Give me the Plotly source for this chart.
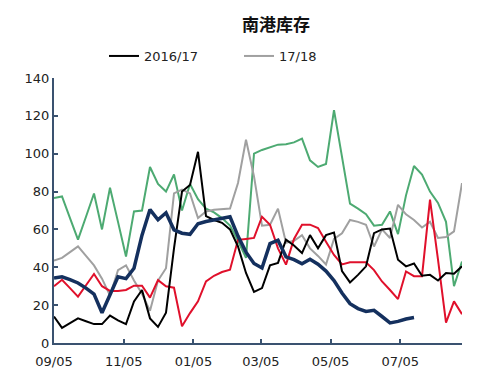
import datetime as dt
import plotly.graph_objects as go

start = dt.date(2017, 9, 5)
n_weeks = 52
dates = [start + dt.timedelta(days=7 * i) for i in range(n_weeks)]

tick_vals = ["2017-09-05", "2017-11-05", "2018-01-05", "2018-03-05", "2018-05-05", "2018-07-05"]
tick_text = ["09/05", "11/05", "01/05", "03/05", "05/05", "07/05"]

s_2016_17 = [14, 8, 10.5, 13, 11.5, 10, 10, 14.5, 12, 10, 22, 28, 13, 8.5, 16, 50,
             80, 83.5, 101, 67, 65, 63.5, 60, 51, 37, 27, 29, 41, 42.3, 54.6, 51.5, 47.5,
             57, 50, 57, 58.4, 38, 32, 36, 40.5, 58, 60, 60.5, 44, 40.5, 42, 35.5, 36,
             33, 37, 36.6, 40.5]
s_17_18 = [43.5, 45, 48, 51, 46, 41, 34, 25, 38.5, 41, 33, 26, 17, 33, 39.5, 79,
           81, 79, 66, 69.5, 70.4, 70.7, 71, 84.5, 107.4, 88, 62, 62.5, 71, 53, 54, 57,
           50, 46, 41.5, 55, 58, 65, 64, 62.5, 51, 60, 55.5, 73, 68, 65, 61, 64,
           55.5, 56, 59, 84.5]
s_red = [30, 33.4, 29, 24.5, 30.5, 36.5, 30, 27.5, 27.5, 28, 30.3, 30.3, 24, 33.2, 30, 29.2,
         8.8, 15.8, 22, 32.5, 35.5, 37.5, 38.7, 54.5, 55, 55.5, 66.7, 62.5, 50, 41.4, 55, 62.5,
         62.5, 60.7, 53.5, 46.5, 41.5, 42.6, 42.6, 42.6, 38.5, 32.5, 28, 23.2, 37.8, 35.3, 35.3, 75.7,
         44, 10.8, 22, 15.2]
s_green = [76.6, 77.4, 66, 54.6, 66.7, 79, 60, 82, 64, 45.7, 69.5, 70, 93, 84, 80, 89,
           70, 84, 76, 71, 69, 66, 62, 54, 45, 100, 102, 103.5, 104.8, 105, 106, 108,
           96.5, 93, 94.6, 123, 98, 73.6, 71, 68, 62, 62.5, 69.5, 57.5, 78, 93.5, 89, 80,
           74, 64, 30, 43]
s_blue = [34.3, 35, 33.5, 31.7, 29, 25.8, 16, 25, 35, 34, 39.5, 57, 70.5, 65.1, 68.8, 59.8,
          58, 57.4, 63, 64.2, 65, 65.8, 66.7, 56.5, 48, 42, 39.6, 52.5, 54.3, 45.5, 44, 41.8,
          44.2, 41.6, 38, 33, 26.4, 20.8, 18.2, 16.7, 17.3, 14, 10.6, 11.4, 12.7, 13.5]

fig = go.Figure()
fig.add_trace(go.Scatter(x=dates, y=s_green, mode="lines", line=dict(color="#4DAA72", width=2),
                         showlegend=False, name="green"))
fig.add_trace(go.Scatter(x=dates, y=s_17_18, mode="lines", line=dict(color="#A0A0A0", width=2),
                         name="17/18"))
fig.add_trace(go.Scatter(x=dates, y=s_red, mode="lines", line=dict(color="#E0102B", width=2),
                         showlegend=False, name="red"))
fig.add_trace(go.Scatter(x=dates, y=s_2016_17, mode="lines", line=dict(color="#000000", width=2),
                         name="2016/17"))
fig.add_trace(go.Scatter(x=dates[:len(s_blue)], y=s_blue, mode="lines",
                         line=dict(color="#14305E", width=3.5), showlegend=False, name="blue"))

axis_color = "#3A5270"
fig.update_layout(
    width=503, height=379,
    margin=dict(l=46, r=49, t=70, b=44, autoexpand=False),
    paper_bgcolor="white", plot_bgcolor="white",
    font=dict(family="DejaVu Sans, Liberation Sans, sans-serif", size=13, color="#222222"),
    title=dict(text="<b>南港库存</b>", x=268 / 503, xanchor="center", xref="container",
               y=1 - 17 / 379, yanchor="middle", yref="container",
               font=dict(family="Noto Sans CJK SC", size=17, color="#111111")),
    legend=dict(orientation="h", xref="container", yref="container",
                x=96 / 503, xanchor="left", y=1 - 48 / 379, yanchor="middle",
                traceorder="reversed", entrywidth=90, entrywidthmode="pixels",
                font=dict(size=13, color="#222222"), bgcolor="rgba(0,0,0,0)"),
    xaxis=dict(range=[dates[0], dates[-1]], tickvals=tick_vals, ticktext=tick_text,
               showgrid=False, zeroline=False, showline=True, linecolor=axis_color, linewidth=2,
               ticks="inside", ticklen=4, tickcolor=axis_color, tickwidth=1.5, automargin=False,
               ticklabelstandoff=5),
    yaxis=dict(range=[0, 140], tickvals=list(range(0, 141, 20)),
               showgrid=False, zeroline=False, showline=True, linecolor=axis_color, linewidth=2,
               ticks="inside", ticklen=4, tickcolor=axis_color, tickwidth=1.5, ticksuffix="  ",
               automargin=False),
)

fig.write_html("out.html")
